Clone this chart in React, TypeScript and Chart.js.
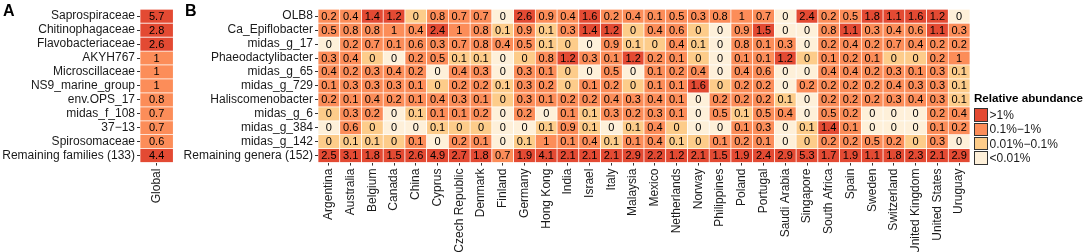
import React, { useEffect, useRef } from "react";
import { Chart, registerables } from "chart.js";

Chart.register(...registerables);

// ---------- data ----------
const families = [
  "Saprospiraceae",
  "Chitinophagaceae",
  "Flavobacteriaceae",
  "AKYH767",
  "Microscillaceae",
  "NS9_marine_group",
  "env.OPS_17",
  "midas_f_108",
  "37\u221213",
  "Spirosomaceae",
  "Remaining families (133)",
];
const globalColumn = ["Global"];
const globalValues = [5.7, 2.8, 2.6, 0.98, 0.98, 0.97, 0.8, 0.7, 0.7, 0.6, 4.4];

const genera = [
  "OLB8",
  "Ca_Epiflobacter",
  "midas_g_17",
  "Phaeodactylibacter",
  "midas_g_65",
  "midas_g_729",
  "Haliscomenobacter",
  "midas_g_6",
  "midas_g_384",
  "midas_g_142",
  "Remaining genera (152)",
];

const countries = [
  "Argentina", "Australia", "Belgium", "Canada", "China", "Cyprus",
  "Czech Republic", "Denmark", "Finland", "Germany", "Hong Kong", "India",
  "Israel", "Italy", "Malaysia", "Mexico", "Netherlands", "Norway",
  "Philippines", "Poland", "Portugal", "Saudi Arabia", "Singapore",
  "South Africa", "Spain", "Sweden", "Switzerland", "United Kingdom",
  "United States", "Uruguay",
];

// relative abundance (%) per genus, one value per country (order as above)
const olb8 = [0.2, 0.4, 1.4, 1.2, 0.04, 0.8, 0.7, 0.7, 0.005, 2.6, 0.9, 0.4, 1.6, 0.2, 0.4, 0.12, 0.5, 0.3, 0.8, 0.98, 0.7, 0.005, 2.4, 0.2, 0.5, 1.8, 1.1, 1.6, 1.2, 0.005];
const caEpiflobacter = [0.5, 0.8, 0.8, 0.98, 0.4, 2.4, 0.98, 0.8, 0.07, 0.9, 0.07, 0.3, 1.4, 1.2, 0.04, 0.4, 0.6, 0.04, 0.005, 0.9, 1.5, 0.005, 0.005, 0.8, 1.1, 0.3, 0.4, 0.6, 1.1, 0.3];
const midasG17 = [0.005, 0.2, 0.7, 0.12, 0.6, 0.3, 0.7, 0.8, 0.4, 0.5, 0.07, 0.04, 0.005, 0.9, 0.07, 0.04, 0.4, 0.07, 0.005, 0.8, 0.12, 0.3, 0.005, 0.2, 0.4, 0.2, 0.7, 0.4, 0.2, 0.2];
const phaeodactylibacter = [0.3, 0.4, 0.04, 0.005, 0.2, 0.5, 0.07, 0.07, 0.005, 0.04, 0.8, 1.2, 0.3, 0.12, 1.2, 0.2, 0.12, 0.04, 0.005, 0.12, 0.12, 1.2, 0.04, 0.12, 0.2, 0.12, 0.04, 0.04, 0.2, 0.96];
const midasG65 = [0.4, 0.2, 0.3, 0.4, 0.2, 0.005, 0.4, 0.3, 0.005, 0.3, 0.12, 0.04, 0.005, 0.5, 0.005, 0.12, 0.2, 0.4, 0.005, 0.4, 0.6, 0.005, 0.005, 0.4, 0.4, 0.2, 0.3, 0.12, 0.3, 0.07];
const midasG729 = [0.12, 0.3, 0.3, 0.3, 0.12, 0.04, 0.2, 0.2, 0.07, 0.3, 0.2, 0.04, 0.12, 0.2, 0.04, 0.12, 0.12, 1.6, 0.04, 0.2, 0.2, 0.005, 0.2, 0.2, 0.2, 0.2, 0.4, 0.3, 0.3, 0.07];
const haliscomenobacter = [0.2, 0.12, 0.4, 0.2, 0.12, 0.4, 0.3, 0.12, 0.04, 0.3, 0.12, 0.2, 0.2, 0.4, 0.3, 0.4, 0.12, 0.005, 0.2, 0.2, 0.2, 0.07, 0.005, 0.2, 0.2, 0.2, 0.3, 0.4, 0.3, 0.07];
const midasG6 = [0.04, 0.3, 0.2, 0.005, 0.07, 0.12, 0.12, 0.2, 0.005, 0.2, 0.005, 0.12, 0.07, 0.3, 0.2, 0.3, 0.12, 0.005, 0.5, 0.07, 0.5, 0.4, 0.005, 0.5, 0.2, 0.005, 0.005, 0.005, 0.2, 0.4];
const midasG384 = [0.005, 0.6, 0.04, 0.005, 0.005, 0.07, 0.04, 0.04, 0.005, 0.005, 0.07, 0.9, 0.07, 0.005, 0.07, 0.4, 0.04, 0.005, 0.005, 0.12, 0.3, 0.005, 0.07, 1.4, 0.12, 0.005, 0.005, 0.005, 0.12, 0.2];
const midasG142 = [0.04, 0.07, 0.07, 0.04, 0.12, 0.005, 0.2, 0.12, 0.005, 0.07, 0.98, 0.12, 0.4, 0.07, 0.12, 0.4, 0.07, 0.04, 0.12, 0.2, 0.12, 0.005, 0.04, 0.2, 0.2, 0.5, 0.2, 0.04, 0.3, 0.005];
const remainingGenera = [2.5, 3.1, 1.8, 1.5, 2.6, 4.9, 2.7, 1.8, 0.7, 1.9, 4.1, 2.1, 2.1, 2.1, 2.9, 2.2, 1.2, 2.1, 1.5, 1.9, 2.4, 2.9, 5.3, 1.7, 1.9, 1.1, 1.8, 2.3, 2.1, 2.9];

const generaRows = [
  olb8, caEpiflobacter, midasG17, phaeodactylibacter, midasG65, midasG729,
  haliscomenobacter, midasG6, midasG384, midasG142, remainingGenera,
];

const binLabels = [">1%", "0.1%\u22121%", "0.01%\u22120.1%", "<0.01%"];
const binColors = ["#E34A33", "#FC8D59", "#FDCC8A", "#FEF0D9"];
const binLower = [1, 0.1, 0.01, 0];

// ---------- helpers ----------
const FONT = '"Liberation Sans", Arial, Helvetica, sans-serif';
const TEXT = "#1a1a1a";

function colorFor(v: number): string {
  for (let i = 0; i < binLower.length; i++) if (v >= binLower[i]) return binColors[i];
  return binColors[binColors.length - 1];
}
function fmt(v: number): string {
  const r = Math.round(v * 10) / 10;
  return String(r);
}

const cellText = {
  id: "cellText",
  afterDatasetsDraw(chart: any) {
    const ctx = chart.ctx;
    ctx.save();
    ctx.font = `11px ${FONT}`;
    ctx.fillStyle = "#000";
    ctx.textAlign = "center";
    ctx.textBaseline = "middle";
    chart.data.datasets.forEach((ds: any, k: number) => {
      const meta = chart.getDatasetMeta(k);
      meta.data.forEach((el: any, i: number) => {
        const p = el.getProps(["x", "y", "base"], true);
        ctx.fillText(fmt(ds.values[i]), p.x, (p.y + p.base) / 2 + 0.5);
      });
    });
    ctx.restore();
  },
};

function makeConfig(
  columns: string[],
  rowLabels: string[],
  rowValues: number[][],
  yWidth: number,
  padRight: number
): any {
  const datasets = rowLabels.map((r, k) => ({
    label: r,
    xAxisID: "x",
    yAxisID: "y",
    data: columns.map(() => 1),
    values: rowValues[k],
    backgroundColor: rowValues[k].map(colorFor),
    borderColor: "#ffffff",
    borderWidth: 0.7,
    borderSkipped: false,
    barPercentage: 1,
    categoryPercentage: 1,
  }));
  return {
    type: "bar",
    data: { labels: columns, datasets },
    plugins: [cellText],
    options: {
      animation: false,
      responsive: false,
      devicePixelRatio: 1,
      events: [],
      layout: { padding: { left: 0, right: padRight, top: 7, bottom: 0 } },
      plugins: { legend: { display: false }, tooltip: { enabled: false } },
      scales: {
        x: {
          type: "category",
          stacked: true,
          offset: true,
          grid: { display: true, offset: false, drawOnChartArea: false, drawTicks: true, tickLength: 3, color: "#333", lineWidth: 1 },
          border: { display: false },
          ticks: {
            autoSkip: false,
            minRotation: 90,
            maxRotation: 90,
            padding: 3,
            color: TEXT,
            font: { family: FONT, size: 12 },
          },
          afterFit: (s: any) => {
            s.height = 89.4;
          },
        },
        y: {
          type: "linear",
          stacked: true,
          min: 0,
          max: rowLabels.length,
          reverse: true,
          display: false,
        },
        yLab: {
          type: "category",
          labels: rowLabels,
          position: "left",
          offset: true,
          grid: { display: true, offset: false, drawOnChartArea: false, drawTicks: true, tickLength: 3, color: "#333", lineWidth: 1 },
          border: { display: false },
          ticks: { autoSkip: false, padding: 2, color: TEXT, font: { family: FONT, size: 12 } },
          afterFit: (s: any) => {
            s.width = yWidth;
          },
        },
      },
    },
  };
}

function HeatCanvas(props: {
  left: number;
  width: number;
  columns: string[];
  rows: string[];
  values: number[][];
  yWidth: number;
  padRight: number;
}) {
  const ref = useRef<HTMLCanvasElement | null>(null);
  useEffect(() => {
    if (!ref.current) return;
    const chart = new Chart(
      ref.current,
      makeConfig(props.columns, props.rows, props.values, props.yWidth, props.padRight)
    );
    return () => chart.destroy();
  }, []);
  return (
    <canvas
      ref={ref}
      width={props.width}
      height={252}
      style={{ position: "absolute", left: props.left, top: 0, width: props.width, height: 252 }}
    />
  );
}

export default function App() {
  const globalRows = globalValues.map((v) => [v]);
  return (
    <div
      style={{
        position: "absolute",
        left: 0,
        top: 0,
        width: 1084,
        height: 252,
        background: "#fff",
        overflow: "hidden",
        fontFamily: FONT,
      }}
    >
      <HeatCanvas
        left={0}
        width={180}
        columns={globalColumn}
        rows={families}
        values={globalRows}
        yWidth={140}
        padRight={6.7}
      />
      <HeatCanvas
        left={180}
        width={904}
        columns={countries}
        rows={genera}
        values={generaRows}
        yWidth={138}
        padRight={114}
      />
      <div style={{ position: "absolute", left: 3, top: 1, fontSize: 16, fontWeight: "bold", color: "#000", lineHeight: "20px" }}>A</div>
      <div style={{ position: "absolute", left: 185, top: 1, fontSize: 16, fontWeight: "bold", color: "#000", lineHeight: "20px" }}>B</div>
      <div
        style={{
          position: "absolute",
          left: 974,
          top: 91,
          fontSize: 11.6,
          fontWeight: "bold",
          color: "#000",
          lineHeight: "14px",
          whiteSpace: "nowrap",
        }}
      >
        Relative abundance
      </div>
      {binLabels.map((lab, i) => (
        <div key={lab} style={{ position: "absolute", left: 974, top: 108 + i * 14.3, height: 14, display: "flex", alignItems: "center" }}>
          <div
            style={{
              width: 13.5,
              height: 13.5,
              boxSizing: "border-box",
              border: "1px solid #333",
              background: binColors[i],
            }}
          />
          <span style={{ marginLeft: 2, fontSize: 12, color: TEXT, whiteSpace: "nowrap", lineHeight: "14px" }}>{lab}</span>
        </div>
      ))}
    </div>
  );
}
